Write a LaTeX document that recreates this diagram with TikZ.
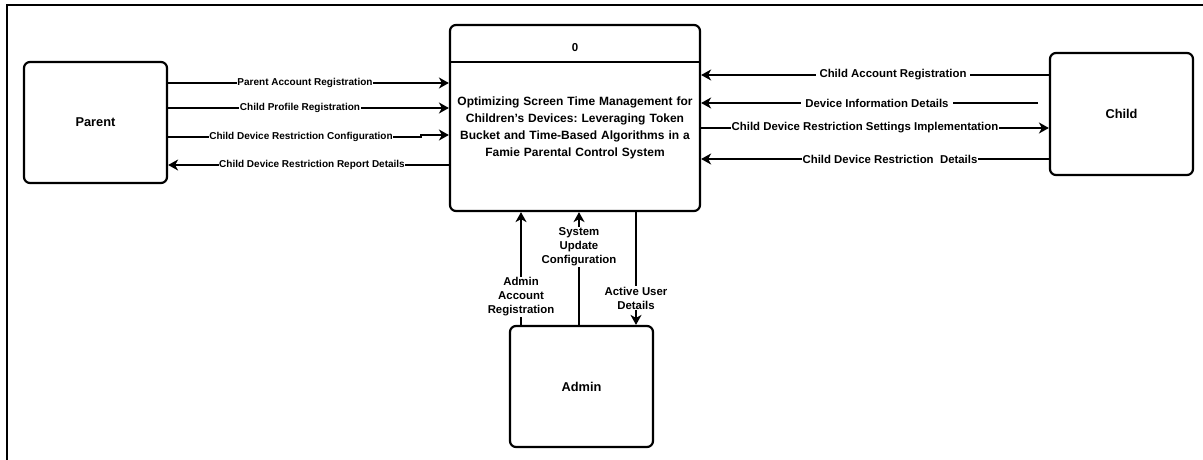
\documentclass[tikz,border=0pt]{standalone}
\usepackage{fontspec}
\setmainfont{Liberation Sans}
\usetikzlibrary{arrows.meta}
\frenchspacing
\begin{document}
\begin{tikzpicture}[x=1pt,y=-1pt,
  box/.style={draw, line width=2.2pt, rounded corners=6pt, inner sep=0pt, font=\bfseries\fontsize{12.8}{15}\selectfont},
  flow/.style={line width=2.2pt, -{Stealth[length=10pt,width=11pt,inset=3pt]}},
  lbl/.style={fill=white, inner sep=0.6pt, font=\bfseries\fontsize{10}{14}\selectfont, align=center},
  lblb/.style={lbl, font=\bfseries\fontsize{11.4}{14}\selectfont},
  frame/.style={line width=2.4pt}]
\useasboundingbox (0,0) rectangle (1203,460);
% frame
\coordinate (ftr) at (1203,5);
\coordinate (ftl) at (7,5);
\coordinate (fbl) at (7,460);
\draw[frame] (ftr) -- (ftl) -- (fbl);
% boxes
\node[box, minimum width=143pt, minimum height=121pt] (parent) at (95.5,122.5) {Parent};
\node[box, minimum width=143pt, minimum height=122pt] (child) at (1121.5,114) {Child};
\node[box, minimum width=143pt, minimum height=121pt] (admin) at (581.5,386.5) {Admin};
\node[box, minimum width=250pt, minimum height=186pt] (proc) at (575,118) {};
\draw[line width=2.2pt] (proc.west |- 0,62) -- (proc.east |- 0,62);
\node[font=\bfseries\fontsize{11.5}{13}\selectfont] (pid) at (575,48) {0};
\node[font=\bfseries\fontsize{12}{17}\selectfont, text width=250pt, align=center] (ptitle) at (575,128)
  {Optimizing Screen Time Management for\\Children's Devices: Leveraging Token\\Bucket and Time-Based Algorithms in a\\Famie Parental Control System};
% parent flows
\draw[flow] (parent.east |- 0,83) -- (proc.west |- 0,83);
\node[lbl] (l1) at (305,83) {Parent Account Registration};
\draw[flow] (parent.east |- 0,108) -- (proc.west |- 0,108);
\node[lbl] (l2) at (300,108) {Child Profile Registration};
\draw[flow] (parent.east |- 0,137) -- (421,137) -- (421,135) -- (proc.west |- 0,135);
\node[lbl] (l3) at (301,137) {Child Device Restriction Configuration};
\draw[flow] (proc.west |- 0,165) -- (parent.east |- 0,165);
\node[lbl] (l4) at (312,165) {Child Device Restriction Report Details};
% child flows
\draw[flow] (child.west |- 0,75) -- (proc.east |- 0,75);
\node[lblb, inner xsep=4pt] (r1) at (893,75) {Child Account Registration};
\coordinate (dstart) at (1038,103);
\draw[flow] (dstart) -- (proc.east |- 0,103);
\node[lblb, inner xsep=4pt] (r2) at (877,103) {Device Information Details};
\draw[flow] (proc.east |- 0,128) -- (child.west |- 0,128);
\node[lblb] (r3) at (865,128) {Child Device Restriction Settings Implementation};
\draw[flow] (child.west |- 0,159) -- (proc.east |- 0,159);
\node[lblb] (r4) at (890,159) {Child Device Restriction\ \ Details};
% admin flows
\draw[flow] (admin.north -| 521,0) -- (proc.south -| 521,0);
\node[lblb] (a1) at (521,297) {Admin\\Account\\Registration};
\draw[flow] (admin.north -| 579,0) -- (proc.south -| 579,0);
\node[lblb] (a2) at (579,247) {System\\Update\\Configuration};
\draw[flow] (proc.south -| 636,0) -- (admin.north -| 636,0);
\node[lblb] (a3) at (636,298) {Active User\\Details};
\end{tikzpicture}
\end{document}
